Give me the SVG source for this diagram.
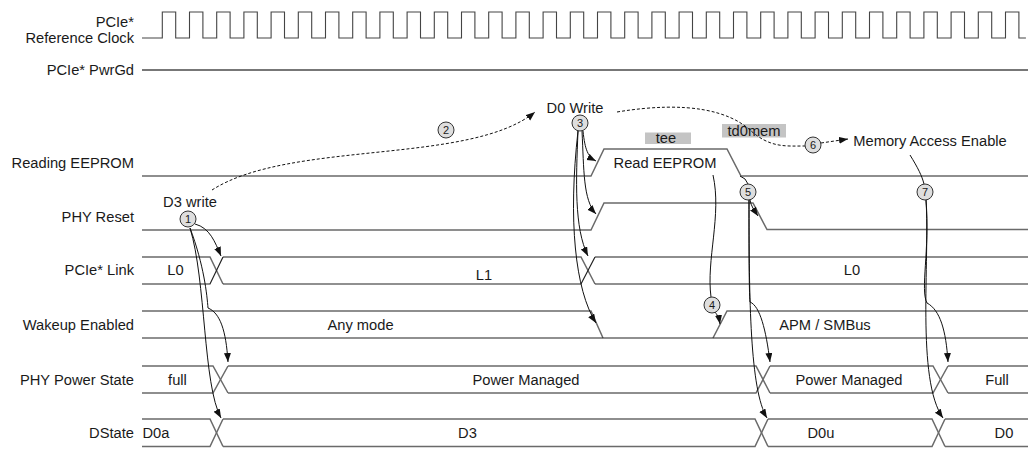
<svg xmlns="http://www.w3.org/2000/svg" width="1028" height="449" viewBox="0 0 1028 449">
<style>
text{font-family:"Liberation Sans",Arial,sans-serif;font-size:14.7px;fill:#1a1a1a}
.lbl{text-anchor:end}
.mid{text-anchor:middle}
.sig{fill:none;stroke:#6a6a6a;stroke-width:1.5}
.sigk{fill:none;stroke:#222;stroke-width:1.2}
.clk{fill:none;stroke:#444;stroke-width:1.1}
.arr{fill:none;stroke:#111;stroke-width:1;marker-end:url(#ah)}
.ln{fill:none;stroke:#111;stroke-width:1}
.dash{fill:none;stroke:#111;stroke-width:1;stroke-dasharray:3,2}
.num circle{fill:#dedede;stroke:#333;stroke-width:1}
.num text{font-size:11px;text-anchor:middle}
.box{fill:#c4c4c4}
</style>
<defs>
<marker id="ah" markerUnits="userSpaceOnUse" markerWidth="10" markerHeight="8" refX="9" refY="3.5" orient="auto">
<path d="M0,0 L9,3.5 L0,7 z" fill="#111"/>
</marker>
</defs>
<rect width="1028" height="449" fill="#fff"/>

<g id="labels">
<text class="lbl" x="134" y="27">PCIe*</text>
<text class="lbl" x="134" y="43">Reference Clock</text>
<text class="lbl" x="134" y="75">PCIe* PwrGd</text>
<text class="lbl" x="134" y="168">Reading EEPROM</text>
<text class="lbl" x="134" y="222">PHY Reset</text>
<text class="lbl" x="134" y="275">PCIe* Link</text>
<text class="lbl" x="134" y="330">Wakeup Enabled</text>
<text class="lbl" x="134" y="385">PHY Power State</text>
<text class="lbl" x="134" y="438">DState</text>
</g>

<g id="clock">
<path class="clk" d="M142,38 H162.3 v-26h13.4v26h13.8 v-26h13.4v26h13.8 v-26h13.4v26h13.8 v-26h13.4v26h13.8 v-26h13.4v26h13.8 v-26h13.4v26h13.8 v-26h13.4v26h13.8 v-26h13.4v26h13.8 v-26h13.4v26h13.8 v-26h13.4v26h13.8 v-26h13.4v26h13.8 v-26h13.4v26h13.8 v-26h13.4v26h13.8 v-26h13.4v26h13.8 v-26h13.4v26h13.8 v-26h13.4v26h13.8 v-26h13.4v26h13.8 v-26h13.4v26h13.8 v-26h13.4v26h13.8 v-26h13.4v26h13.8 v-26h13.4v26h13.8 v-26h13.4v26h13.8 v-26h13.4v26h13.8 v-26h13.4v26h13.8 v-26h13.4v26h13.8 v-26h13.4v26h13.8 v-26h13.4v26h13.8 v-26h13.4v26h13.8 v-26h13.4v26h13.8 v-26h13.4v26h13.8 v-26h13.4v26h13.8 v-26h13.4v26h7"/>
</g>

<g id="pwrgd">
<path d="M142,70 H1028" fill="none" stroke="#777" stroke-width="2"/>
</g>

<g id="eeprom">
<path class="sig" d="M142,176 H591 L604,149 H727 L741,176 H1028"/>
<text class="mid" x="665" y="168">Read EEPROM</text>
<rect class="box" x="645" y="132.5" width="46" height="11.5"/>
<text class="mid" x="666" y="143">tee</text>
<rect class="box" x="722" y="124" width="64" height="13.5"/>
<text class="mid" x="754" y="136">td0mem</text>
</g>

<g id="phyreset">
<path class="sig" d="M142,230 H591 L604,203 H753 L767,229.5 H1028"/>
</g>

<g id="pcielink">
<path class="sig" d="M142,257 H210 L223,284 M223,257 H581 L595,284 M595,257 H1028"/>
<path class="sigk" d="M142,284 H210 L223,257 M223,284 H581 L595,257 M595,284 H1028"/>
<text class="mid" x="175.5" y="275">L0</text>
<text class="mid" x="484" y="280">L1</text>
<text class="mid" x="852" y="275">L0</text>
</g>

<g id="wakeup">
<path class="sig" d="M142,311 H591 L603,338 M713,338 L727,311 H1028"/>
<path class="sigk" d="M142,338 H1028"/>
<text class="mid" x="360.5" y="330">Any mode</text>
<text class="mid" x="825" y="330">APM / SMBus</text>
</g>

<g id="phypower">
<path class="sig" d="M142,366 H213 L228,393 M228,366 H756 L770,393 M770,366 H933 L948,393 M948,366 H1028"/>
<path class="sig" d="M142,393 H213 L228,366 M228,393 H756 L770,366 M770,393 H933 L948,366 M948,393 H1028"/>
<text class="mid" x="177.5" y="385">full</text>
<text class="mid" x="526" y="385">Power Managed</text>
<text class="mid" x="849" y="385">Power Managed</text>
<text class="mid" x="997" y="385">Full</text>
</g>

<g id="dstate">
<path class="sig" d="M142,419 H210 L223,446.5 M223,419 H755 L768,446.5 M768,419 H932 L945,446.5 M945,419 H1028"/>
<path class="sig" d="M142,446.5 H210 L223,419 M223,446.5 H755 L768,419 M768,446.5 H932 L945,419 M945,446.5 H1028"/>
<text class="mid" x="156" y="438">D0a</text>
<text class="mid" x="467.5" y="438">D3</text>
<text class="mid" x="821" y="438">D0u</text>
<text class="mid" x="1004" y="438">D0</text>
</g>

<g id="events">
<text class="mid" x="190" y="207">D3 write</text>
<text class="mid" x="575" y="113">D0 Write</text>
<text class="mid" x="930" y="146">Memory Access Enable</text>
</g>

<g id="connectors">
<path class="dash" d="M212,190 C290,140 470,165 535,112" marker-end="url(#ah)"/>
<path class="dash" d="M617,112 C690,100 730,112 750,130 S785,146 805,146"/>
<path class="dash" d="M821,143 L848,139" marker-end="url(#ah)"/>
<path class="arr" d="M195,224 C210,228 215,242 221,256"/>
<path class="arr" d="M190,228 C204,265 207,295 208,308 C220,313 226,330 228,362"/>
<path class="arr" d="M190,228 C206,280 203,385 221,418"/>
<path class="arr" d="M583,131 C585,150 588,157 596,161"/>
<path class="arr" d="M582,131 C584,170 583,200 596,214"/>
<path class="arr" d="M578,131 C576,180 574,228 588,256"/>
<path class="arr" d="M578,131 C568,220 575,290 596,323"/>
<path class="ln" d="M713,175 C722,215 706,260 711,297"/>
<path class="arr" d="M715,312 C718,316 719,318 720,324"/>
<path class="ln" d="M740,176 Q746,178 748,184"/>
<path class="arr" d="M750,200 C751,206 754,210 758,216"/>
<path class="arr" d="M749,200 C749,250 749,290 750,302 C760,306 766,330 770,362"/>
<path class="arr" d="M749,200 C749,300 750,390 767,418"/>
<path class="ln" d="M910,155 C918,168 922,176 924,184"/>
<path class="arr" d="M926,200 C930,250 920,290 927,303 C940,310 946,330 948,362"/>
<path class="arr" d="M926,200 C930,260 916,380 943,418"/>
</g>

<g id="markers" class="num">
<g id="n1"><circle cx="188" cy="219" r="8"/><text x="188" y="223">1</text></g>
<g id="n2"><circle cx="446" cy="130" r="8"/><text x="446" y="134">2</text></g>
<g id="n3"><circle cx="580" cy="123" r="8"/><text x="580" y="127">3</text></g>
<g id="n4"><circle cx="712" cy="305" r="8"/><text x="712" y="309">4</text></g>
<g id="n5"><circle cx="748" cy="192" r="8"/><text x="748" y="196">5</text></g>
<g id="n6"><circle cx="813" cy="145" r="8"/><text x="813" y="149">6</text></g>
<g id="n7"><circle cx="925" cy="192" r="8"/><text x="925" y="196">7</text></g>
</g>
</svg>
